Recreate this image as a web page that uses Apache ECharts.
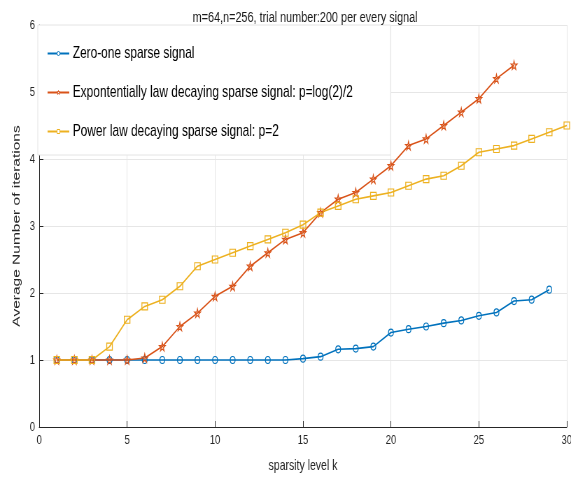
<!DOCTYPE html>
<html>
<head>
<meta charset="utf-8">
<script src="https://cdn.jsdelivr.net/npm/echarts@6/dist/echarts.min.js"></script>
<style>
html,body{margin:0;padding:0;background:#fff;overflow:hidden;width:571px;height:477px}
#c{width:816px;height:477px;transform:scaleX(0.69975);transform-origin:0 0}
</style>
</head>
<body>
<div id="c"></div>
<script>
var titleText = 'm=64,n=256, trial number:200 per every signal';
var xAxisTitle = 'sparsity level k';
var yAxisTitle = 'Average Number of iterations';
var seriesNames = ['Zero-one sparse signal', 'Expontentially law decaying sparse signal: p=log(2)/2', 'Power law decaying sparse signal: p=2'];
var zeroOneK = [1,2,3,4,5,6,7,8,9,10,11,12,13,14,15,16,17,18,19,20,21,22,23,24,25,26,27,28,29];
var zeroOneVals = [1,1,1,1,1,1,1,1,1,1,1,1,1,1,1.02,1.05,1.16,1.17,1.2,1.41,1.46,1.5,1.55,1.59,1.66,1.71,1.88,1.9,2.05];
var expK = [1,2,3,4,5,6,7,8,9,10,11,12,13,14,15,16,17,18,19,20,21,22,23,24,25,26,27];
var expVals = [1,1,1,1,1,1.03,1.2,1.5,1.7,1.95,2.1,2.4,2.6,2.8,2.9,3.2,3.4,3.5,3.7,3.9,4.2,4.3,4.5,4.7,4.9,5.2,5.4];
var powK = [1,2,3,4,5,6,7,8,9,10,11,12,13,14,15,16,17,18,19,20,21,22,23,24,25,26,27,28,29,30];
var powVals = [1,1,1,1.2,1.6,1.8,1.9,2.1,2.4,2.5,2.6,2.7,2.8,2.9,3.02,3.2,3.3,3.4,3.45,3.5,3.6,3.7,3.75,3.9,4.1,4.15,4.2,4.3,4.4,4.5];
var colors = ['#0072BD', '#D95319', '#EDB120'];

function pairs(xs, ys){ return xs.map(function(x,i){ return [x, ys[i]]; }); }
var starPath = 'path://M50,0 L61,35 L98,35 L68,57 L79,91 L50,70 L21,91 L32,57 L2,35 L39,35 Z';
var font = "'Liberation Sans',Arial,Helvetica,sans-serif";

function mk(name, data, color, symbol, size){
  return {
    name: name, type: 'line', data: data, symbol: symbol, symbolSize: size,
    showAllSymbol: true,
    lineStyle: {color: color, width: 1.6},
    itemStyle: {color: 'rgba(255,255,255,0)', borderColor: color, borderWidth: 1.2},
    emphasis: {disabled: true}, animation: false
  };
}

var chart = echarts.init(document.getElementById('c'), null, {renderer: 'canvas', width: 816, height: 477});
chart.setOption({
  animation: false,
  backgroundColor: '#fff',
  title: {text: titleText, left: 431, top: 5, textAlign: 'center',
    textStyle: {fontFamily: font, fontSize: 15.5, fontWeight: 'normal', color: '#1a1a1a'}},
  grid: {left: 56, right: 6, top: 25, bottom: 50, containLabel: false, outerBoundsMode: 'none'},
  legend: {
    orient: 'vertical', left: 54, top: 25,
    padding: [20, 54, 15, 13], itemGap: 22, itemWidth: 31, itemHeight: 5,
    backgroundColor: '#fff', borderColor: '#e4e4e4', borderWidth: 1,
    itemStyle: {color: '#fff', borderWidth: 1},
    textStyle: {fontFamily: font, fontSize: 17, color: '#000'},
    data: seriesNames
  },
  xAxis: {
    type: 'value', min: 0, max: 30, interval: 5,
    name: xAxisTitle, nameLocation: 'middle', nameGap: 31,
    nameTextStyle: {fontFamily: font, fontSize: 15, color: '#262626'},
    axisLine: {show: true, lineStyle: {color: '#262626', width: 1}},
    axisTick: {show: true, inside: true, length: 6, lineStyle: {color: '#262626'}},
    axisLabel: {fontFamily: font, fontSize: 13.5, color: '#262626', margin: 6},
    splitLine: {show: true, lineStyle: {color: '#e6e6e6', width: 1}}
  },
  yAxis: {
    type: 'value', min: 0, max: 6, interval: 1,
    name: yAxisTitle, nameLocation: 'middle', nameGap: 24,
    nameTextStyle: {fontFamily: font, fontSize: 15.5, color: '#262626'},
    axisLine: {show: true, lineStyle: {color: '#262626', width: 1}},
    axisTick: {show: true, inside: true, length: 6, lineStyle: {color: '#262626'}},
    axisLabel: {fontFamily: font, fontSize: 13.5, color: '#262626', margin: 6},
    splitLine: {show: true, lineStyle: {color: '#e6e6e6', width: 1}}
  },
  series: [
    mk(seriesNames[0], pairs(zeroOneK, zeroOneVals), colors[0], 'circle', 7),
    mk(seriesNames[1], pairs(expK, expVals), colors[1], starPath, 8.5),
    mk(seriesNames[2], pairs(powK, powVals), colors[2], 'rect', [8, 7])
  ]
});
</script>
</body>
</html>
